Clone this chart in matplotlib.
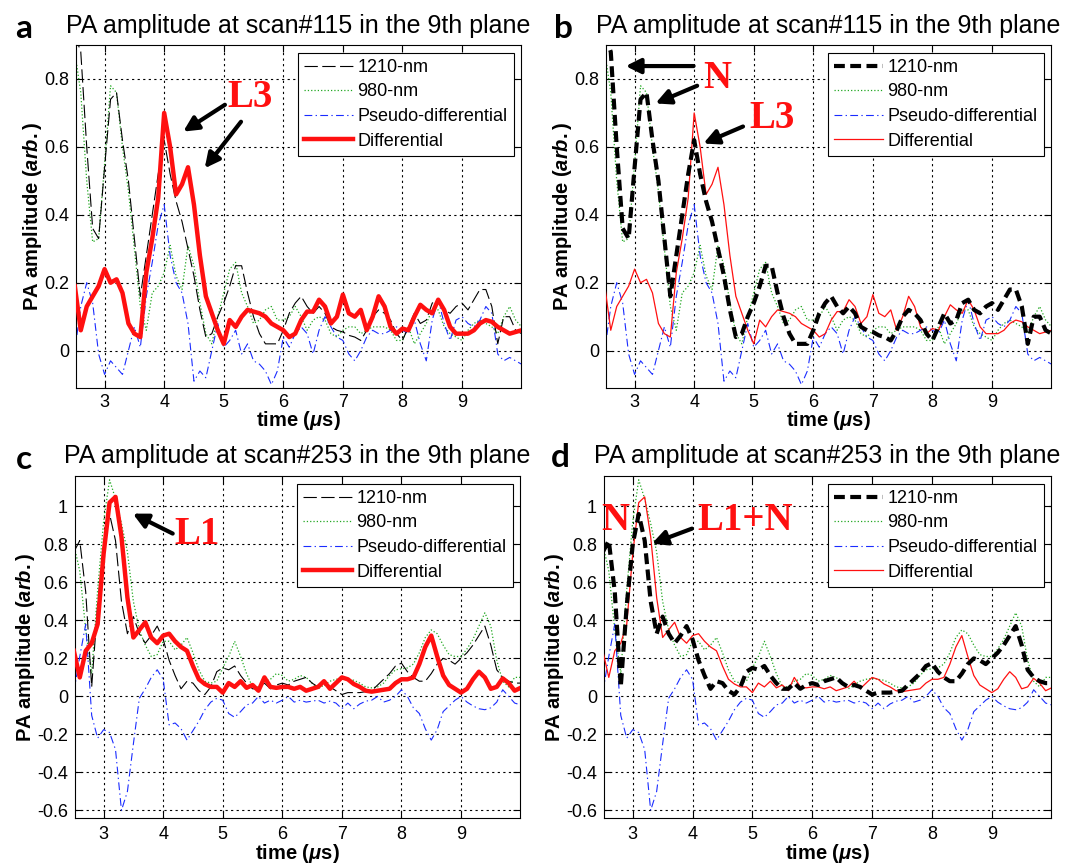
import numpy as np
import matplotlib
matplotlib.use('Agg')
import matplotlib.pyplot as plt
from matplotlib.ticker import FuncFormatter

plt.rcParams['font.family'] = ['Liberation Sans', 'DejaVu Sans']
plt.rcParams['mathtext.fontset'] = 'custom'
plt.rcParams['mathtext.it'] = 'Liberation Sans:italic:bold'
plt.rcParams['mathtext.rm'] = 'Liberation Sans:bold'

# time axis (us), 0.1 us sampling
t = np.round(np.arange(2.5, 10.001, 0.1), 2)

# ---- scan#115 ----
nm1210_115 = [0.93, 0.88, 0.60, 0.36, 0.33,
              0.54, 0.74, 0.76, 0.62, 0.50,
              0.33, 0.16, 0.28, 0.40, 0.52,
              0.62, 0.52, 0.44, 0.38, 0.30,
              0.22, 0.12, 0.04, 0.05, 0.10,
              0.14, 0.19, 0.25, 0.25, 0.17,
              0.10, 0.05, 0.02, 0.02, 0.02,
              0.06, 0.11, 0.14, 0.16, 0.13,
              0.11, 0.13, 0.11, 0.07, 0.06,
              0.055, 0.045, 0.04, 0.03, 0.06,
              0.10, 0.12, 0.11, 0.09, 0.05,
              0.03, 0.07, 0.11, 0.08, 0.09,
              0.14, 0.15, 0.12, 0.11, 0.13,
              0.14, 0.12, 0.15, 0.18, 0.18,
              0.13, 0.02, 0.10, 0.10, 0.06,
              0.05]
nm980_115 = [0.88, 0.76, 0.50, 0.32, 0.33,
             0.55, 0.78, 0.76, 0.60, 0.47,
             0.30, 0.13, 0.06, 0.17, 0.19,
             0.23, 0.31, 0.22, 0.18, 0.31,
             0.25, 0.14, 0.05, 0.02, 0.10,
             0.17, 0.24, 0.26, 0.17, 0.13,
             0.08, 0.09, 0.12, 0.13, 0.09,
             0.09, 0.10, 0.13, 0.10, 0.06,
             0.09, 0.10, 0.09, 0.05, 0.04,
             0.06, 0.07, 0.07, 0.05, 0.06,
             0.07, 0.07, 0.07, 0.06, 0.03,
             0.03, 0.07, 0.02, 0.05, 0.08,
             0.12, 0.12, 0.07, 0.05, 0.04,
             0.03, 0.06, 0.08, 0.09, 0.08,
             0.07, 0.05, 0.10, 0.13, 0.09,
             0.07]
pseudo_115 = [0.0, 0.13, 0.20, 0.14, -0.01,
              -0.07, -0.03, -0.05, -0.07, 0.0,
              0.07, 0.01, 0.16, 0.26, 0.37,
              0.43, 0.28, 0.20, 0.17, 0.08,
              -0.09, -0.06, -0.08, 0.0, 0.08,
              0.01, 0.03, 0.06, -0.01, 0.02,
              -0.03, -0.04, -0.06, -0.10, -0.06,
              0.04, 0.01, 0.05, 0.07, 0.05,
              -0.01, 0.06, 0.10, 0.07, 0.04,
              0.03, -0.01, -0.03, 0.0, 0.04,
              0.06, 0.05, 0.05, 0.06, 0.07,
              0.06, 0.05, 0.09, 0.02, -0.03,
              0.09, 0.15, 0.08, 0.03, 0.09,
              0.10, 0.08, 0.07, 0.09, 0.13,
              0.11, -0.01, -0.03, -0.02, -0.03,
              -0.04]
diff_115 = [0.19, 0.06, 0.13, 0.16, 0.19,
            0.24, 0.20, 0.21, 0.17, 0.08,
            0.05, 0.04, 0.23, 0.33, 0.45,
            0.70, 0.60, 0.46, 0.49, 0.54,
            0.43, 0.28, 0.16, 0.11, 0.06,
            0.02, 0.09, 0.07, 0.10, 0.12,
            0.115, 0.11, 0.10, 0.08, 0.07,
            0.06, 0.04, 0.05, 0.09, 0.115,
            0.115, 0.15, 0.13, 0.08, 0.10,
            0.165, 0.11, 0.10, 0.12, 0.06,
            0.10, 0.16, 0.13, 0.07, 0.05,
            0.065, 0.06, 0.10, 0.135, 0.12,
            0.11, 0.15, 0.12, 0.07, 0.05,
            0.05, 0.05, 0.06, 0.08, 0.09,
            0.085, 0.07, 0.06, 0.05, 0.055,
            0.06]

# ---- scan#253 ----
nm1210_253 = [0.76, 0.82, 0.55, 0.05, 0.48,
              0.80, 0.96, 0.82, 0.50, 0.33,
              0.42, 0.33, 0.28, 0.32, 0.37,
              0.30, 0.19, 0.11, 0.04, 0.08,
              0.07, 0.03, 0.01, 0.05, 0.13,
              0.15, 0.14, 0.16, 0.11, 0.07,
              0.04, 0.04, 0.07, 0.04, 0.06,
              0.07, 0.06, 0.08, 0.09, 0.10,
              0.07, 0.05, 0.06, 0.05, 0.03,
              0.01, 0.02, 0.02, 0.02, 0.025,
              0.03, 0.06, 0.09, 0.12, 0.16,
              0.175, 0.13, 0.10, 0.08, 0.08,
              0.12, 0.17, 0.20, 0.19, 0.17,
              0.20, 0.23, 0.27, 0.32, 0.37,
              0.27, 0.14, 0.10, 0.08, 0.07,
              0.07]
nm980_253 = [0.80, 0.66, 0.35, 0.12, 0.56,
             0.92, 1.14, 1.04, 0.91, 0.76,
             0.50, 0.35, 0.27, 0.21, 0.22,
             0.29, 0.29, 0.245, 0.27, 0.31,
             0.23, 0.14, 0.08, 0.07, 0.08,
             0.15, 0.21, 0.29, 0.21, 0.12,
             0.05, 0.05, 0.08, 0.09, 0.12,
             0.11, 0.08, 0.09, 0.11, 0.10,
             0.07, 0.04, 0.06, 0.08, 0.09,
             0.095, 0.09, 0.085, 0.07, 0.05,
             0.045, 0.05, 0.07, 0.11, 0.14,
             0.145, 0.15, 0.17, 0.23, 0.31,
             0.35, 0.33, 0.27, 0.22, 0.21,
             0.21, 0.25, 0.30, 0.37, 0.44,
             0.37, 0.19, 0.08, 0.05, 0.10,
             0.10]
pseudo_253 = [0.02, 0.21, 0.38, -0.10, -0.22,
              -0.175, -0.19, -0.28, -0.60, -0.50,
              -0.25, -0.01, 0.04, 0.10, 0.14,
              0.09, -0.15, -0.14, -0.17, -0.23,
              -0.18, -0.13, -0.07, -0.03, -0.01,
              -0.02, -0.09, -0.11, -0.08, -0.045,
              -0.035, 0.0, -0.035, -0.02, -0.035,
              -0.02, 0.0, -0.03, -0.02, -0.03,
              -0.025, -0.02, -0.035, -0.025, -0.035,
              -0.065, -0.035, -0.065, -0.04, -0.025,
              -0.02, 0.0, -0.03, -0.02, 0.0,
              0.035, 0.0, -0.06, -0.09, -0.17,
              -0.23, -0.175, -0.08, -0.05, -0.02,
              0.0, -0.03, -0.05, -0.065, -0.07,
              -0.06, -0.03, 0.035, 0.0, -0.035,
              -0.045]
diff_253 = [0.24, 0.10, 0.24, 0.28, 0.38,
            0.75, 1.02, 1.05, 0.84, 0.52,
            0.31, 0.35, 0.39, 0.31, 0.28,
            0.32, 0.33, 0.29, 0.26, 0.24,
            0.16, 0.09, 0.065, 0.05, 0.05,
            0.02, 0.07, 0.05, 0.08, 0.045,
            0.06, 0.03, 0.10, 0.05, 0.045,
            0.05, 0.05, 0.04, 0.05, 0.03,
            0.04, 0.05, 0.08, 0.04, 0.07,
            0.10, 0.09, 0.065, 0.05, 0.03,
            0.025, 0.03, 0.035, 0.04, 0.07,
            0.09, 0.09, 0.10, 0.17, 0.26,
            0.32, 0.21, 0.11, 0.06, 0.04,
            0.02, 0.04, 0.09, 0.13, 0.10,
            0.04, 0.05, 0.095, 0.07, 0.03,
            0.045]

titles = ['PA amplitude at scan#115 in the 9th plane',
          'PA amplitude at scan#253 in the 9th plane']
labels = ['1210-nm', '980-nm', 'Pseudo-differential', 'Differential']

W, H = 1073, 867
fig = plt.figure(figsize=(W / 100, H / 100), dpi=100)


def axes_px(left, top, right, bottom):
    return fig.add_axes([left / W, 1 - bottom / H, (right - left) / W, (bottom - top) / H])


def panel(ax, k, g, b, r, bold_1210, title, ylim, yticks, xpad):
    if bold_1210:
        ax.plot(t, k, color='k', lw=3.0, dashes=(2.6, 1.3), label=labels[0], zorder=5)
    else:
        ax.plot(t, k, color='k', lw=0.8, dashes=(12, 4), label=labels[0], zorder=3)
    ax.plot(t, g, color='#22a822', lw=0.9, ls=':', label=labels[1], zorder=2)
    ax.plot(t, b, color='#1a2cff', lw=0.8, dashes=(7, 3, 1.2, 3), label=labels[2], zorder=2)
    if bold_1210:
        ax.plot(t, r, color='#ff1010', lw=0.9, label=labels[3], zorder=4)
    else:
        ax.plot(t, r, color='#ff1010', lw=3.2, label=labels[3], zorder=4)
    ax.set_xlim(2.52, 9.99)
    ax.set_ylim(*ylim)
    ax.set_xticks(range(3, 10))
    ax.set_yticks(yticks)
    ax.yaxis.set_major_formatter(FuncFormatter(lambda v, p: '%g' % round(v, 2)))
    ax.grid(True, color='k', ls=(0, (2, 3)), lw=0.8)
    ax.tick_params(direction='in', top=True, right=True, labelsize=13, length=5)
    ax.tick_params(axis='x', pad=xpad)
    ax.tick_params(axis='y', pad=5)
    for s in ax.spines.values():
        s.set_linewidth(0.8)
    ax.set_title(title, fontsize=18, pad=9)
    ax.set_xlabel(r'time ($\mu$s)', fontsize=14.5, fontweight='bold', labelpad=-1)
    ax.set_ylabel(r'PA amplitude ($arb.$)', fontsize=14.5, fontweight='bold', labelpad=0)
    leg = ax.legend(loc='upper right', bbox_to_anchor=(0.984, 0.978), borderaxespad=0,
                    fontsize=13, handlelength=2.7, labelspacing=0.42, handletextpad=0.25,
                    borderpad=0.35, fancybox=False, framealpha=1, edgecolor='k')
    leg.get_frame().set_linewidth(0.8)


def arrow(ax, tail, head):
    ax.annotate('', xy=head, xytext=tail,
                arrowprops=dict(arrowstyle='-|>', lw=3, color='k', mutation_scale=22,
                                shrinkA=0, shrinkB=0), zorder=10)


def mark(ax, x, y, s):
    ax.text(x, y, s, color='#ff1010', fontsize=28, fontweight='bold',
            family='Liberation Serif', ha='center', va='center', zorder=10, clip_on=False)


top_lim, top_ticks = (-0.11, 0.9), [0, 0.2, 0.4, 0.6, 0.8]
bot_lim, bot_ticks = (-0.64, 1.16), [-0.6, -0.4, -0.2, 0, 0.2, 0.4, 0.6, 0.8, 1.0]

ax_a = axes_px(76, 45, 521, 388)
panel(ax_a, nm1210_115, nm980_115, pseudo_115, diff_115, False, titles[0], top_lim, top_ticks, 4)
mark(ax_a, 5.45, 0.745, 'L3')
arrow(ax_a, (5.02, 0.724), (4.32, 0.645))
arrow(ax_a, (5.29, 0.674), (4.68, 0.537))

ax_b = axes_px(606, 45, 1051, 388)
panel(ax_b, nm1210_115, nm980_115, pseudo_115, diff_115, True, titles[0], top_lim, top_ticks, 4)
mark(ax_b, 4.39, 0.80, 'N')
mark(ax_b, 5.31, 0.684, 'L3')
arrow(ax_b, (3.99, 0.838), (2.85, 0.838))
arrow(ax_b, (4.05, 0.78), (3.35, 0.728))
arrow(ax_b, (4.82, 0.66), (4.155, 0.61))

ax_c = axes_px(75, 476, 520, 818)
panel(ax_c, nm1210_253, nm980_253, pseudo_253, diff_253, False, titles[1], bot_lim, bot_ticks, 6)
mark(ax_c, 4.57, 0.853, 'L1')
arrow(ax_c, (4.16, 0.857), (3.49, 0.962))

ax_d = axes_px(604, 476, 1051, 818)
panel(ax_d, nm1210_253, nm980_253, pseudo_253, diff_253, True, titles[1], bot_lim, bot_ticks, 6)
mark(ax_d, 2.7, 0.927, 'N')
mark(ax_d, 4.88, 0.927, 'L1+N')
arrow(ax_d, (3.99, 0.883), (3.32, 0.804))

# panel letters
for s, x, y in [('a', 24, 28), ('b', 563, 28), ('c', 24, 460), ('d', 560, 458)]:
    fig.text(x / W, 1 - y / H, s, fontsize=24, fontweight='bold', family='Lato',
             ha='center', va='center')

fig.savefig('out.png', dpi=100)
